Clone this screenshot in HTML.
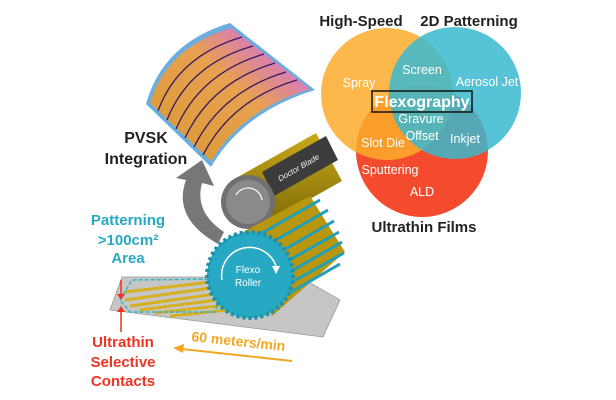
<!DOCTYPE html>
<html><head><style>
body{margin:0;background:#fff;}
svg{display:block}
text{font-family:"Liberation Sans",Arial,sans-serif;}
</style></head><body>
<svg width="616" height="400" viewBox="0 0 616 400" xmlns="http://www.w3.org/2000/svg">
<defs>
<linearGradient id="sheet" x1="0" y1="1" x2="1" y2="0">
<stop offset="0" stop-color="#d99a30"/><stop offset="0.55" stop-color="#e8a050"/><stop offset="0.8" stop-color="#d77ac0"/><stop offset="1" stop-color="#9a50e0"/></linearGradient>
<linearGradient id="gold" x1="0" y1="0" x2="0" y2="1"><stop offset="0" stop-color="#c9a81a"/><stop offset="1" stop-color="#7d6a08"/></linearGradient>
</defs>
<!-- Venn -->
<circle cx="422" cy="151" r="66" fill="#f44a2d"/>
<circle cx="387" cy="94" r="66" fill="#fbab2a" fill-opacity="0.85"/>
<circle cx="455" cy="93" r="66" fill="#3ab9cf" fill-opacity="0.85"/>
<text x="361" y="26" font-size="15" font-weight="bold" text-anchor="middle" fill="#222">High-Speed</text>
<text x="469" y="26" font-size="15" font-weight="bold" text-anchor="middle" fill="#222">2D Patterning</text>
<text x="424" y="232" font-size="15" font-weight="bold" text-anchor="middle" fill="#222">Ultrathin Films</text>
<g fill="#fff" font-size="12.5" text-anchor="middle">
<text x="359" y="87">Spray</text>
<text x="422" y="74">Screen</text>
<text x="487" y="86">Aerosol Jet</text>
<text x="421" y="123">Gravure</text>
<text x="422" y="140">Offset</text>
<text x="383" y="147">Slot Die</text>
<text x="465" y="143">Inkjet</text>
<text x="390" y="174">Sputtering</text>
<text x="422" y="196">ALD</text>
</g>
<rect x="372" y="91" width="100" height="21" fill="none" stroke="#111" stroke-width="1.5"/>
<text x="422" y="107" font-size="16" font-weight="bold" fill="#fff" text-anchor="middle">Flexography</text>
<!-- sheet -->
<path d="M146,104 Q163,43 230,23 L315,90 Q243,112 211,167 Z" fill="#6aaee0"/>
<path d="M150,103 Q167,47 231,28 L310,89 Q242,110 211,161 Z" fill="url(#sheet)"/>
<g stroke="#3a1860" stroke-width="1.3" fill="none">
<path d="M158,111 Q178,56 242,37"/><path d="M167,120 Q189,64 253,46"/><path d="M176,129 Q200,73 264,54"/>
<path d="M185,138 Q211,82 275,63"/><path d="M194,147 Q222,91 286,72"/><path d="M203,155 Q232,99 297,80"/>
</g>
<text x="146" y="143" font-size="16" font-weight="bold" text-anchor="middle" fill="#222">PVSK</text>
<text x="146" y="164" font-size="16" font-weight="bold" text-anchor="middle" fill="#222">Integration</text>
<!-- gray curved arrow -->
<path d="M218,244 Q172,218 186,180 L176,178 L202,160 L214,186 L202,183 Q194,212 224,232 Z" fill="#777"/>
<!-- substrate -->
<polygon points="122,277 300,277 340,300 323,337 110,310" fill="#c6c6c6" stroke="#999" stroke-width="0.8"/>
<g stroke="#d6b020" stroke-width="3">
<line x1="125" y1="300" x2="225" y2="286"/><line x1="130" y1="306" x2="230" y2="292"/><line x1="140" y1="310" x2="232" y2="298"/>
<line x1="155" y1="313" x2="236" y2="304"/><line x1="170" y1="316" x2="238" y2="309"/><line x1="125" y1="292" x2="220" y2="281"/>
</g>
<polygon points="120,300 132,280 225,279 215,312 130,312" fill="none" stroke="#2fb6cb" stroke-width="1.5" stroke-dasharray="4,2"/>
<!-- doctor roller -->
<polygon points="236,178 316,133 342,181 262,226" fill="url(#gold)"/>
<polygon points="262,172 326,136 338,160 274,196" fill="#3c3c3c"/>
<text x="300" y="170" font-size="8" font-style="italic" fill="#eee" transform="rotate(-30 300 170)" text-anchor="middle">Doctor Blade</text>
<circle cx="248" cy="202" r="27" fill="#707070"/>
<circle cx="248" cy="202" r="22" fill="#8a8a8a"/>
<path d="M236,195 A14,14 0 0 1 262,200" fill="none" stroke="#fff" stroke-width="1.2"/>
<!-- flexo roller body -->
<polygon points="228,240 310,196 345,252 272,316" fill="#b8960e"/>
<g stroke="#1f9fb8" stroke-width="3">
<line x1="255" y1="237" x2="320" y2="200"/><line x1="262" y1="248" x2="328" y2="210"/><line x1="268" y1="259" x2="334" y2="221"/>
<line x1="272" y1="270" x2="339" y2="232"/><line x1="274" y1="281" x2="342" y2="242"/><line x1="274" y1="292" x2="344" y2="253"/>
<line x1="272" y1="303" x2="340" y2="264"/>
</g>
<circle cx="250" cy="275" r="43" fill="#24a8c3" stroke="#1f8fa8" stroke-width="4" stroke-dasharray="3,3"/>
<circle cx="250" cy="275" r="40" fill="#27a9c4"/>
<path d="M222,280 A28,28 0 0 1 276,266" fill="none" stroke="#fff" stroke-width="1.5"/>
<polygon points="272,266 280,266 276,274" fill="#fff"/>
<text x="248" y="273" font-size="10" fill="#fff" text-anchor="middle">Flexo</text>
<text x="248" y="286" font-size="10" fill="#fff" text-anchor="middle">Roller</text>
<!-- left texts -->
<g fill="#27a9c4" font-size="15" font-weight="bold" text-anchor="middle">
<text x="128" y="225">Patterning</text><text x="128" y="245">&gt;100cm²</text><text x="128" y="263">Area</text>
</g>
<g fill="#ee3322" font-size="15" font-weight="bold" text-anchor="middle">
<text x="123" y="347">Ultrathin</text><text x="123" y="367">Selective</text><text x="123" y="386">Contacts</text>
</g>
<g stroke="#ee3322" stroke-width="1.5"><line x1="121" y1="280" x2="121" y2="298"/><line x1="121" y1="308" x2="121" y2="332"/></g>
<polygon points="117,294 125,294 121,300" fill="#ee3322"/><polygon points="117,312 125,312 121,306" fill="#ee3322"/>
<text x="238" y="346" font-size="14" font-weight="bold" fill="#f5a623" text-anchor="middle" transform="rotate(6 238 346)">60 meters/min</text>
<line x1="182" y1="349" x2="292" y2="361" stroke="#f5a623" stroke-width="2"/>
<polygon points="173,348 184,344 183,353" fill="#f5a623"/>
</svg>
</body></html>
